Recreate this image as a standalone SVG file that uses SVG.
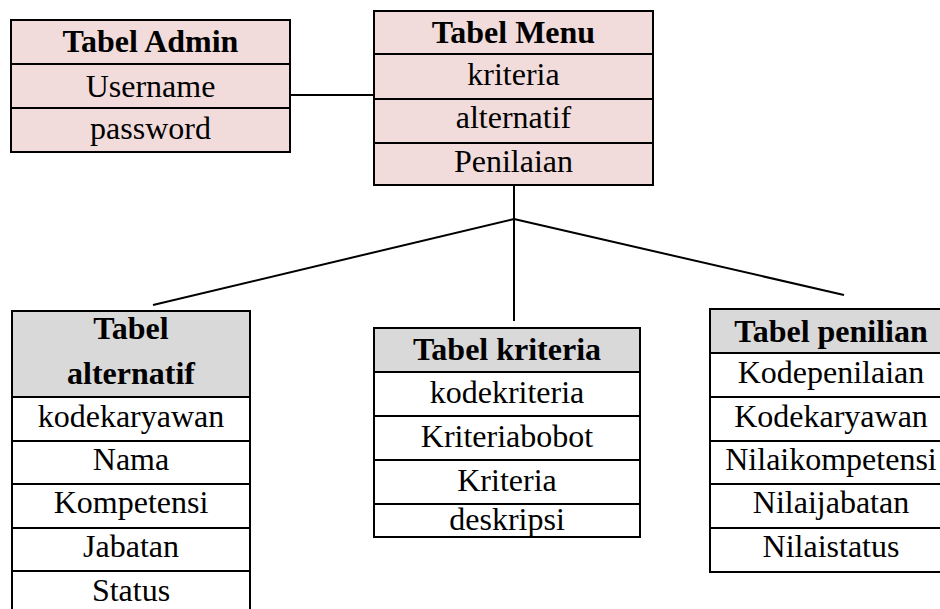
<svg xmlns="http://www.w3.org/2000/svg" width="940" height="609" viewBox="0 0 940 609">
  <style>
    .cell { stroke: #000; stroke-width: 2; }
    .pink { fill: #f2dcdb; }
    .grey { fill: #d9d9d9; }
    .white { fill: #ffffff; }
    .sep { stroke: #000; stroke-width: 2; }
    text { font-family: "Liberation Serif", "Times New Roman", serif; font-size: 32px; fill: #000; text-anchor: middle; }
    .title { font-weight: bold; }
    .link { stroke: #000; stroke-width: 2; fill: none; }
  </style>
  <rect width="940" height="609" fill="#ffffff"/>

  <!-- connectors -->
  <g id="connectors">
    <line class="link" x1="286" y1="95" x2="374" y2="95"/>
    <line class="link" x1="514" y1="182" x2="514" y2="321"/>
    <line class="link" x1="514" y1="219" x2="153" y2="305"/>
    <line class="link" x1="514" y1="219" x2="844" y2="295"/>
  </g>

  <!-- Tabel Admin -->
  <g id="tabel-admin">
    <rect class="cell pink" x="11" y="20" width="279" height="132"/>
    <line class="sep" x1="11" y1="64" x2="290" y2="64"/>
    <line class="sep" x1="11" y1="108" x2="290" y2="108"/>
    <text class="title" x="150.5" y="52">Tabel Admin</text>
    <text x="150.5" y="97">Username</text>
    <text x="150.5" y="139">password</text>
  </g>

  <!-- Tabel Menu -->
  <g id="tabel-menu">
    <rect class="cell pink" x="374" y="11" width="279" height="174"/>
    <line class="sep" x1="374" y1="54" x2="653" y2="54"/>
    <line class="sep" x1="374" y1="99" x2="653" y2="99"/>
    <line class="sep" x1="374" y1="143" x2="653" y2="143"/>
    <text class="title" x="513.5" y="43">Tabel Menu</text>
    <text x="513.5" y="85">kriteria</text>
    <text x="513.5" y="128">alternatif</text>
    <text x="513.5" y="172">Penilaian</text>
  </g>

  <!-- Tabel alternatif -->
  <g id="tabel-alternatif">
    <rect class="cell grey" x="12" y="311" width="238" height="86"/>
    <rect class="cell white" x="12" y="397" width="238" height="230"/>
    <line class="sep" x1="12" y1="441" x2="250" y2="441"/>
    <line class="sep" x1="12" y1="484" x2="250" y2="484"/>
    <line class="sep" x1="12" y1="528" x2="250" y2="528"/>
    <line class="sep" x1="12" y1="571" x2="250" y2="571"/>
    <text class="title" x="131" y="339">Tabel</text>
    <text class="title" x="131" y="384">alternatif</text>
    <text x="131" y="427">kodekaryawan</text>
    <text x="131" y="470">Nama</text>
    <text x="131" y="513">Kompetensi</text>
    <text x="131" y="557">Jabatan</text>
    <text x="131" y="601">Status</text>
  </g>

  <!-- Tabel kriteria -->
  <g id="tabel-kriteria">
    <rect class="cell grey" x="374" y="328" width="266" height="44"/>
    <rect class="cell white" x="374" y="372" width="266" height="165"/>
    <line class="sep" x1="374" y1="416" x2="640" y2="416"/>
    <line class="sep" x1="374" y1="460" x2="640" y2="460"/>
    <line class="sep" x1="374" y1="504" x2="640" y2="504"/>
    <text class="title" x="507" y="360">Tabel kriteria</text>
    <text x="507" y="403">kodekriteria</text>
    <text x="507" y="447">Kriteriabobot</text>
    <text x="507" y="491">Kriteria</text>
    <text x="507" y="530">deskripsi</text>
  </g>

  <!-- Tabel penilian -->
  <g id="tabel-penilian">
    <rect class="cell grey" x="710" y="309" width="242" height="44"/>
    <rect class="cell white" x="710" y="353" width="242" height="219"/>
    <line class="sep" x1="710" y1="397" x2="952" y2="397"/>
    <line class="sep" x1="710" y1="441" x2="952" y2="441"/>
    <line class="sep" x1="710" y1="484" x2="952" y2="484"/>
    <line class="sep" x1="710" y1="528" x2="952" y2="528"/>
    <text class="title" x="831" y="342">Tabel penilian</text>
    <text x="831" y="383">Kodepenilaian</text>
    <text x="831" y="427">Kodekaryawan</text>
    <text x="831" y="470">Nilaikompetensi</text>
    <text x="831" y="513">Nilaijabatan</text>
    <text x="831" y="557">Nilaistatus</text>
  </g>
</svg>
